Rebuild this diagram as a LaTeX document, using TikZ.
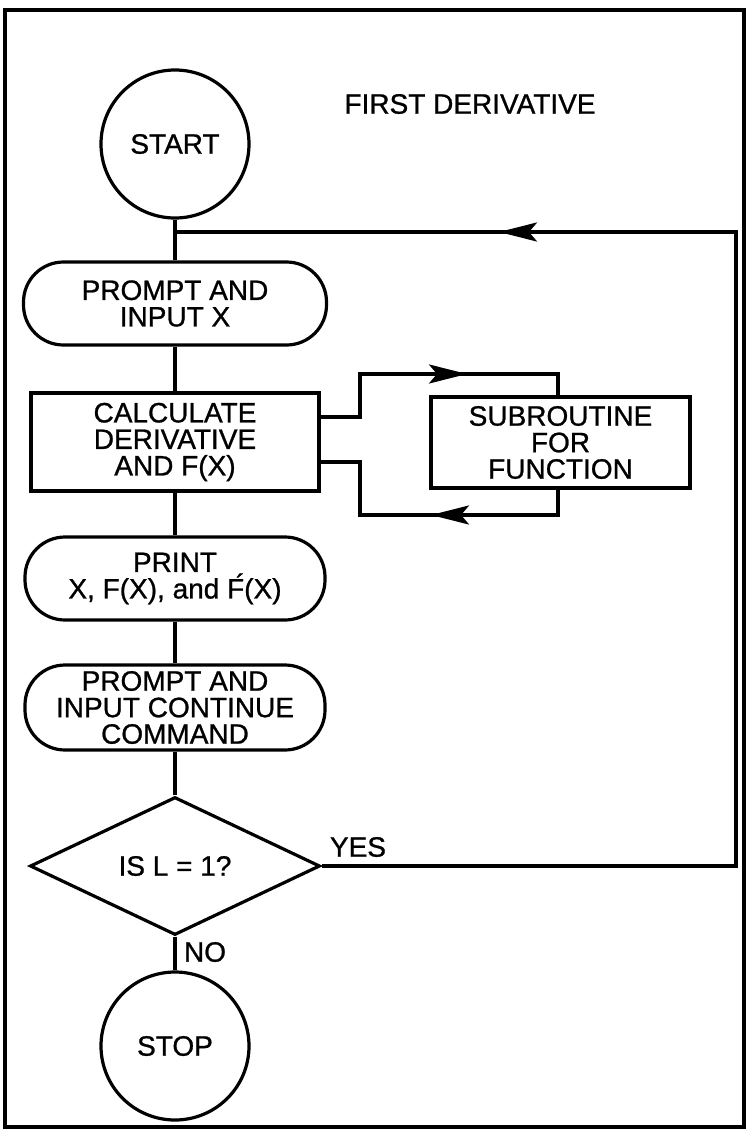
\documentclass[tikz,border=0pt]{standalone}
\usepackage{fontspec}
\setmainfont{Liberation Sans}[FakeBold=0.9]
\usetikzlibrary{arrows.meta,shapes.geometric}
\begin{document}
\begin{tikzpicture}[x=1pt,y=-1pt,
  txt/.style={font=\fontsize{28}{26.5}\selectfont, align=center, inner sep=0pt},
  ln/.style={line width=3.2pt},
  circ/.style={txt, draw, line width=3.2pt, circle, minimum size=148pt},
  term/.style={txt, draw, line width=3.2pt, rectangle, rounded corners=40pt},
  proc/.style={txt, draw, line width=3.2pt, rectangle},
  dec/.style={txt, draw, line width=3.2pt, diamond},
  arr/.style={-{Stealth[length=38pt,width=19pt,inset=8pt]}}
]
\useasboundingbox (0,0) rectangle (748,1130);
\draw[line width=4.5pt] (5,10) rectangle (744,1127);

\node[txt] (title) at (470,104) {FIRST DERIVATIVE};
\node[circ] (start) at (175,144) {START};
\node[term, minimum width=303pt, minimum height=83pt] (p1) at (175,303.5) {PROMPT AND\\INPUT X};
\node[proc, minimum width=288pt, minimum height=98pt] (calc) at (175,442) {CALCULATE\\DERIVATIVE\\AND F(X)};
\node[proc, minimum width=259pt, minimum height=91pt] (sub) at (560.5,442.5) {SUBROUTINE\\FOR\\FUNCTION};
\node[term, minimum width=300pt, minimum height=83pt] (print) at (175,578.5) {PRINT\\X, F(X), and F\rlap{\kern-0.3em\raisebox{0.16em}{´}}(X)};
\node[term, minimum width=300pt, minimum height=85pt] (cont) at (175,707.5) {PROMPT AND\\INPUT CONTINUE\\COMMAND};
\node[dec, minimum width=290pt, minimum height=138pt] (dec) at (175,866) {IS L = 1?};
\node[circ] (stop) at (175,1046) {STOP};
\node[txt] (yes) at (358,847) {YES};
\node[txt] (no) at (205,952) {NO};

% main column
\coordinate (j) at (175,232);
\draw[ln] (start) -- (p1);
\draw[ln] (p1) -- (calc);
\draw[ln] (calc) -- (print);
\draw[ln] (print) -- (cont);
\draw[ln] (cont) -- (dec);
\draw[ln] (dec) -- (stop);

% loop back
\coordinate (yr) at (736,866);
\coordinate (tr) at (736,232);
\coordinate (ah) at (499,232);
\coordinate (ab) at (545,232);
\draw[ln] (dec.east) -- (yr) -- (tr) -- (j);
\draw[ln,arr] (ab) -- (ah);

% subroutine call
\coordinate (a1) at (360,417);
\coordinate (a2) at (360,374);
\coordinate (a3) at (467,374);
\coordinate (a0) at (420,374);
\coordinate (a4) at (558,374);
\draw[ln] (calc.east |- a1) -- (a1) -- (a2) -- (a4) -- (a4 |- sub.north);
\draw[ln,arr] (a0) -- (a3);

\coordinate (b4) at (558,515);
\coordinate (b3) at (431,515);
\coordinate (b0) at (478,515);
\coordinate (b2) at (360,515);
\coordinate (b1) at (360,462);
\draw[ln] (b4 |- sub.south) -- (b4) -- (b2) -- (b1) -- (calc.east |- b1);
\draw[ln,arr] (b0) -- (b3);
\end{tikzpicture}
\end{document}
